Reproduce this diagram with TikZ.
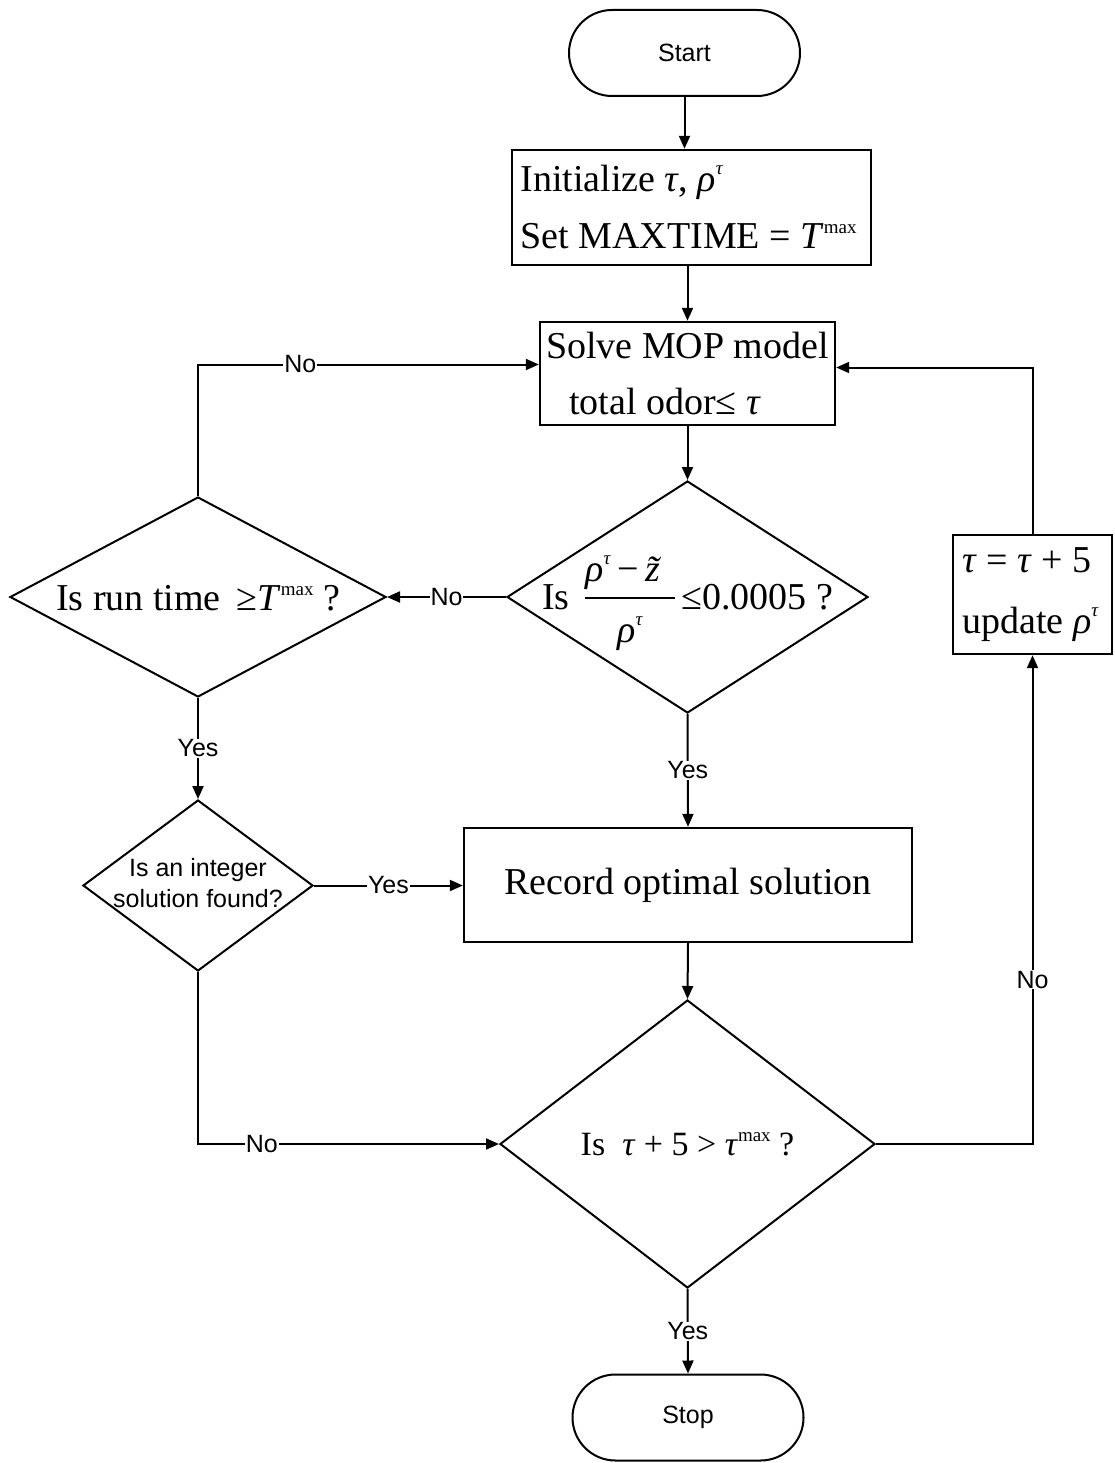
\documentclass[tikz,border=0pt]{standalone}
\usepackage{fontspec}
\setmainfont{Liberation Serif}
\newfontfamily\labelfont{Liberation Sans}
\usetikzlibrary{shapes.geometric,arrows.meta}

% small upright superscript "max" and the italic rho with tau superscript
\newcommand{\supmax}{\raisebox{0.42em}{\fontsize{19}{19}\selectfont max}}
\newcommand{\rhotau}{\textit{ρ}\raisebox{0.45em}{\fontsize{19}{19}\selectfont\textit{τ}}}
\newcommand{\tauit}{\textit{τ}}
% text that does not enlarge the shape around it
\newcommand{\inside}[2][10pt]{\smash{\makebox[0pt]{\raisebox{-#1}{%
  \begin{tabular}{@{}c@{}}#2\end{tabular}}}}}

\begin{document}
\begin{tikzpicture}[x=1pt,y=-1pt,
  line/.style={line width=2pt,draw=black},
  arr/.style={line,-{Triangle[length=13pt,width=11pt]}},
  term/.style={draw,line width=2pt,rounded corners=43pt,minimum width=231,
    minimum height=86,inner sep=0pt,font=\labelfont\fontsize{25}{30}\selectfont},
  box/.style={draw,line width=2.4pt,inner sep=0pt,align=left,
    font=\fontsize{38}{57}\selectfont},
  dia/.style={draw,diamond,line width=2pt,inner sep=0pt,
    font=\fontsize{38}{46}\selectfont},
  lab/.style={fill=white,inner sep=1pt,font=\labelfont\fontsize{25}{30}\selectfont}]

\fill[white] (0,0) rectangle (1114,1463);
\useasboundingbox (0,0) rectangle (1114,1463);

% terminals
\node[term] (start) at (684.5,53) {Start};
\node[term] (stop) at (688,1417.5) {Stop};

% process boxes
\node[box,minimum width=359,minimum height=115]
  (init) at (691.5,207.5) {Initialize \tauit, \rhotau\\Set MAXTIME = \textit{T}\supmax\hspace*{6pt}};
\node[box,minimum width=295,minimum height=103,font=\fontsize{38}{56}\selectfont]
  (mop) at (687.5,373.5) {Solve MOP model\\\hspace*{23pt}total odor≤ \tauit};
\node[box,minimum width=159,minimum height=119,font=\fontsize{38}{61}\selectfont]
  (upd) at (1032.5,594.5) {\tauit\ = \tauit\ + 5\\update \rhotau\hspace*{4pt}};
\node[box,minimum width=448,minimum height=114] (rec) at (688,885)
  {Record optimal solution};

% decisions
\node[dia,minimum width=361,minimum height=232] (q1) at (687.5,597)
  {\inside[12pt]{Is \,\setlength{\arrayrulewidth}{1.6pt}%
   \begin{tabular}{@{}c@{}}\rhotau\,−\,\textit{\~z}\\[2pt]\hline
   \rule{0pt}{1.15em}\rhotau\end{tabular}\,≤0.0005 ?}};
\node[dia,minimum width=376,minimum height=200] (q2) at (198,597)
  {\inside[11pt]{Is run time \,≥\textit{T}\supmax\ ?}};
\node[dia,minimum width=230,minimum height=171,
  font=\labelfont\fontsize{25}{31}\selectfont] (q3) at (198,885.5)
  {\inside[7pt]{Is an integer\\solution found?}};
\node[dia,minimum width=375,minimum height=288,font=\fontsize{34}{40}\selectfont]
  (q4) at (687.5,1144)
  {\inside[10pt]{Is \ \tauit\ + 5 > \tauit\supmax\ ?}};

% connectors
\draw[arr] (start.south) -- (start.south |- init.north);
\draw[arr] (init.south -| mop.north) -- (mop.north);
\draw[arr] (mop.south) -- (q1.north);
\draw[arr] (q1.west) -- node[lab] {No} (q2.east);
\draw[arr] (q2.north) |- node[lab,pos=0.65] {No} ([yshift=9pt]mop.west);
\draw[arr] (q2.south) -- node[lab] {Yes} (q3.north);
\draw[arr] (q1.south) -- node[lab] {Yes} (rec.north);
\draw[arr] (q3.east) -- node[lab] {Yes} (q3.east -| rec.west);
\draw[arr] (rec.south) -- (q4.north);
\draw[arr] (q3.south) |- node[lab,pos=0.606] {No} (q4.west);
\draw[arr] (q4.east) -| node[lab,pos=0.668] {No} (upd.south);
\draw[arr] (upd.north) |- ([yshift=6pt]mop.east);
\draw[arr] (q4.south) -- node[lab] {Yes} (stop.north);

\end{tikzpicture}
\end{document}
